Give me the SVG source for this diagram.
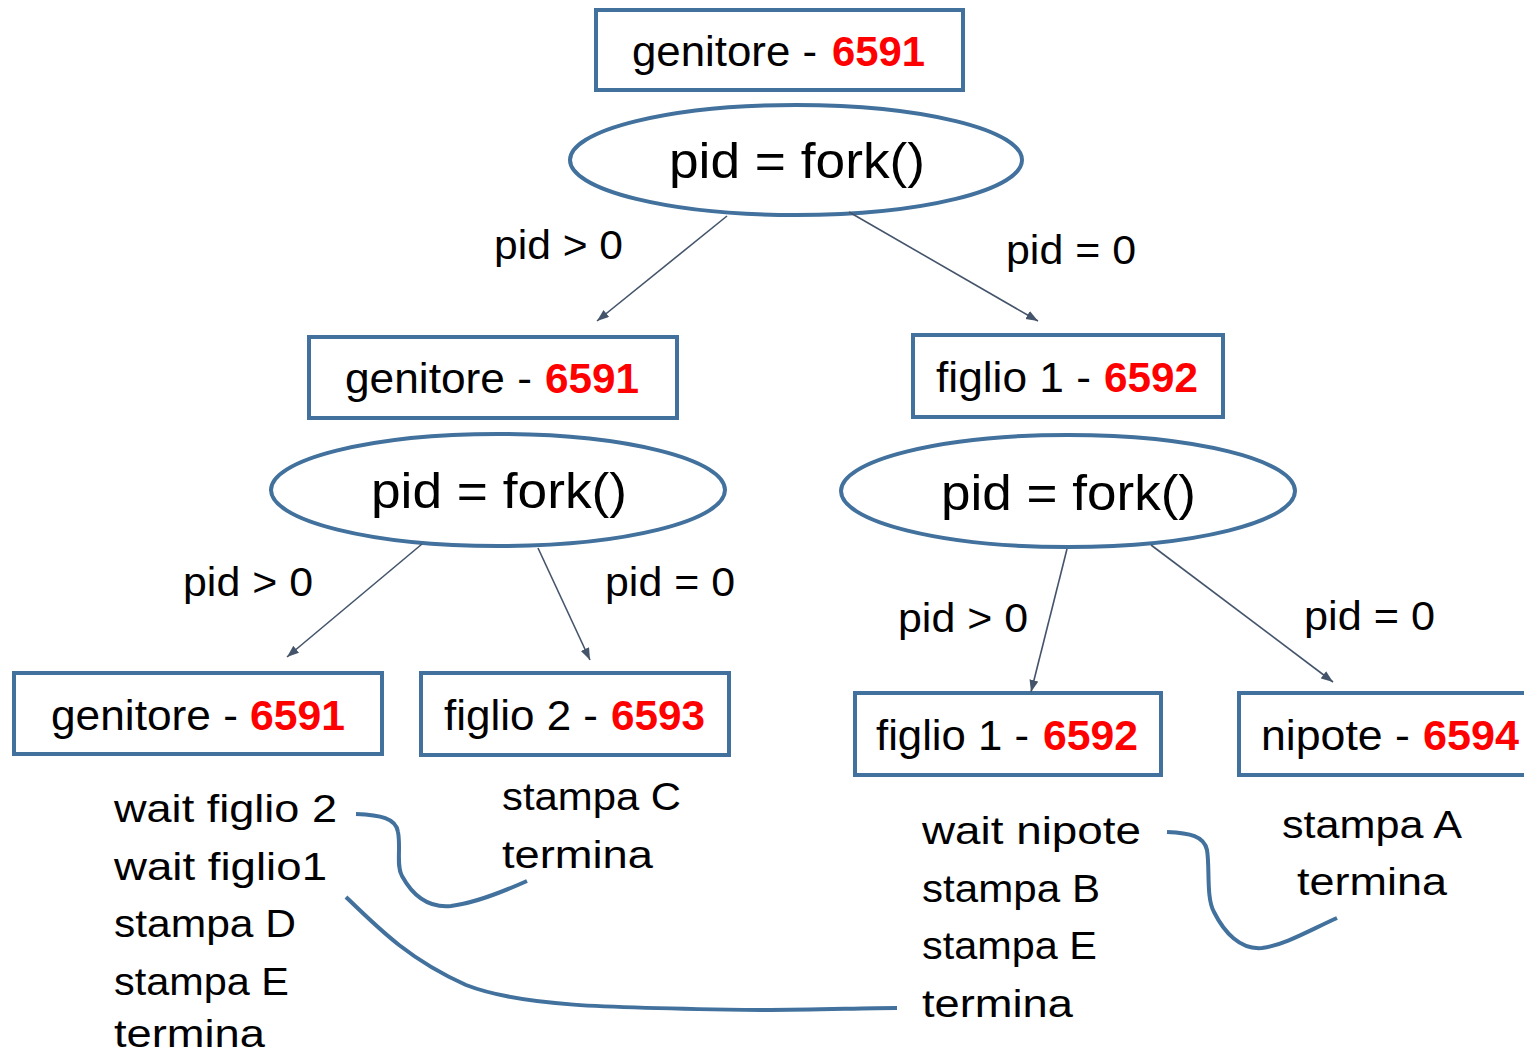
<svg xmlns="http://www.w3.org/2000/svg" width="1524" height="1055" viewBox="0 0 1524 1055">
<style>
.box{fill:#fff;stroke:#41719C;stroke-width:4}
.ell{fill:#fff;stroke:#41719C;stroke-width:4}
.t{font-family:"Liberation Sans",Arial,sans-serif;fill:#000}
.bl{font-size:42px}
.num{font-size:42px;font-weight:bold;fill:#FF0000}
.et{font-size:50px}
.lab{font-size:41px}
.li{font-size:38px}
.arr{stroke:#44546A;stroke-width:1.6;fill:none;marker-end:url(#ah)}
.cur{stroke:#41719C;stroke-width:4;fill:none}
</style>
<defs>
<marker id="ah" markerUnits="userSpaceOnUse" markerWidth="14" markerHeight="10" refX="12" refY="4.5" orient="auto">
<path d="M0,0 L12,4.5 L0,9 z" fill="#44546A"/>
</marker>
</defs>
<g id="n1">
<rect class="box" x="596" y="10" width="367" height="80"/>
<text class="t bl" x="632" y="66" textLength="185" lengthAdjust="spacingAndGlyphs">genitore -</text>
<text class="t num" x="832" y="66" textLength="93" lengthAdjust="spacingAndGlyphs">6591</text>
</g>
<g id="f1">
<ellipse class="ell" cx="796" cy="160" rx="226" ry="55"/>
<text class="t et" x="669" y="178" textLength="256" lengthAdjust="spacingAndGlyphs">pid = fork()</text>
</g>
<g id="n2">
<rect class="box" x="309" y="337" width="368" height="81"/>
<text class="t bl" x="345" y="393" textLength="187" lengthAdjust="spacingAndGlyphs">genitore -</text>
<text class="t num" x="545" y="393" textLength="94" lengthAdjust="spacingAndGlyphs">6591</text>
</g>
<g id="n3">
<rect class="box" x="913" y="335" width="310" height="82"/>
<text class="t bl" x="936" y="392" textLength="155" lengthAdjust="spacingAndGlyphs">figlio 1 -</text>
<text class="t num" x="1104" y="392" textLength="94" lengthAdjust="spacingAndGlyphs">6592</text>
</g>
<g id="f2">
<ellipse class="ell" cx="498" cy="490" rx="227" ry="56"/>
<text class="t et" x="371" y="508" textLength="256" lengthAdjust="spacingAndGlyphs">pid = fork()</text>
</g>
<g id="f3">
<ellipse class="ell" cx="1068" cy="491" rx="227" ry="56"/>
<text class="t et" x="941" y="510" textLength="255" lengthAdjust="spacingAndGlyphs">pid = fork()</text>
</g>
<g id="n4">
<rect class="box" x="14" y="673" width="368" height="81"/>
<text class="t bl" x="51" y="730" textLength="187" lengthAdjust="spacingAndGlyphs">genitore -</text>
<text class="t num" x="250" y="730" textLength="95" lengthAdjust="spacingAndGlyphs">6591</text>
</g>
<g id="n5">
<rect class="box" x="421" y="673" width="308" height="82"/>
<text class="t bl" x="444" y="730" textLength="154" lengthAdjust="spacingAndGlyphs">figlio 2 -</text>
<text class="t num" x="611" y="730" textLength="94" lengthAdjust="spacingAndGlyphs">6593</text>
</g>
<g id="n6">
<rect class="box" x="855" y="693" width="306" height="82"/>
<text class="t bl" x="876" y="750" textLength="153" lengthAdjust="spacingAndGlyphs">figlio 1 -</text>
<text class="t num" x="1043" y="750" textLength="95" lengthAdjust="spacingAndGlyphs">6592</text>
</g>
<g id="n7">
<rect class="box" x="1239" y="693" width="300" height="82"/>
<text class="t bl" x="1261" y="750" textLength="149" lengthAdjust="spacingAndGlyphs">nipote -</text>
<text class="t num" x="1423" y="750" textLength="96" lengthAdjust="spacingAndGlyphs">6594</text>
</g>
<g id="connectors">
<line class="arr" x1="727" y1="216" x2="597" y2="321"/>
<line class="arr" x1="849" y1="212" x2="1038" y2="321"/>
<line class="arr" x1="422" y1="544" x2="287" y2="657"/>
<line class="arr" x1="538" y1="548" x2="590" y2="660"/>
<line class="arr" x1="1067" y1="549" x2="1031" y2="692"/>
<line class="arr" x1="1151" y1="545" x2="1333" y2="682"/>
<path class="cur" d="M356,814 C380,815 396,818 398,832 C401,848 396,866 402,876 C414,898 430,908 451,906 C475,903 500,893 527,881"/>
<path class="cur" d="M346,897 C380,930 410,960 466,985 C520,1006 600,1008 761,1010 C820,1010 860,1008 897,1008"/>
<path class="cur" d="M1167,832 C1190,833 1204,836 1207,850 C1210,868 1206,898 1214,912 C1224,932 1240,950 1262,948 C1285,945 1310,930 1337,918"/>
</g>
<g id="labels">
<text class="t lab" x="494" y="259" textLength="129" lengthAdjust="spacingAndGlyphs">pid &gt; 0</text>
<text class="t lab" x="1006" y="264" textLength="130" lengthAdjust="spacingAndGlyphs">pid = 0</text>
<text class="t lab" x="183" y="596" textLength="130" lengthAdjust="spacingAndGlyphs">pid &gt; 0</text>
<text class="t lab" x="605" y="596" textLength="130" lengthAdjust="spacingAndGlyphs">pid = 0</text>
<text class="t lab" x="898" y="632" textLength="130" lengthAdjust="spacingAndGlyphs">pid &gt; 0</text>
<text class="t lab" x="1304" y="630" textLength="131" lengthAdjust="spacingAndGlyphs">pid = 0</text>
</g>
<g id="notes">
<text class="t li" x="114" y="822" textLength="223" lengthAdjust="spacingAndGlyphs">wait figlio 2</text>
<text class="t li" x="114" y="880" textLength="213" lengthAdjust="spacingAndGlyphs">wait figlio1</text>
<text class="t li" x="114" y="937" textLength="182" lengthAdjust="spacingAndGlyphs">stampa D</text>
<text class="t li" x="114" y="995" textLength="175" lengthAdjust="spacingAndGlyphs">stampa E</text>
<text class="t li" x="114" y="1047" textLength="151" lengthAdjust="spacingAndGlyphs">termina</text>
<text class="t li" x="502" y="810" textLength="179" lengthAdjust="spacingAndGlyphs">stampa C</text>
<text class="t li" x="502" y="868" textLength="151" lengthAdjust="spacingAndGlyphs">termina</text>
<text class="t li" x="922" y="844" textLength="219" lengthAdjust="spacingAndGlyphs">wait nipote</text>
<text class="t li" x="922" y="902" textLength="178" lengthAdjust="spacingAndGlyphs">stampa B</text>
<text class="t li" x="922" y="959" textLength="175" lengthAdjust="spacingAndGlyphs">stampa E</text>
<text class="t li" x="922" y="1017" textLength="151" lengthAdjust="spacingAndGlyphs">termina</text>
<text class="t li" x="1282" y="838" textLength="180" lengthAdjust="spacingAndGlyphs">stampa A</text>
<text class="t li" x="1297" y="895" textLength="150" lengthAdjust="spacingAndGlyphs">termina</text>
</g>
</svg>
